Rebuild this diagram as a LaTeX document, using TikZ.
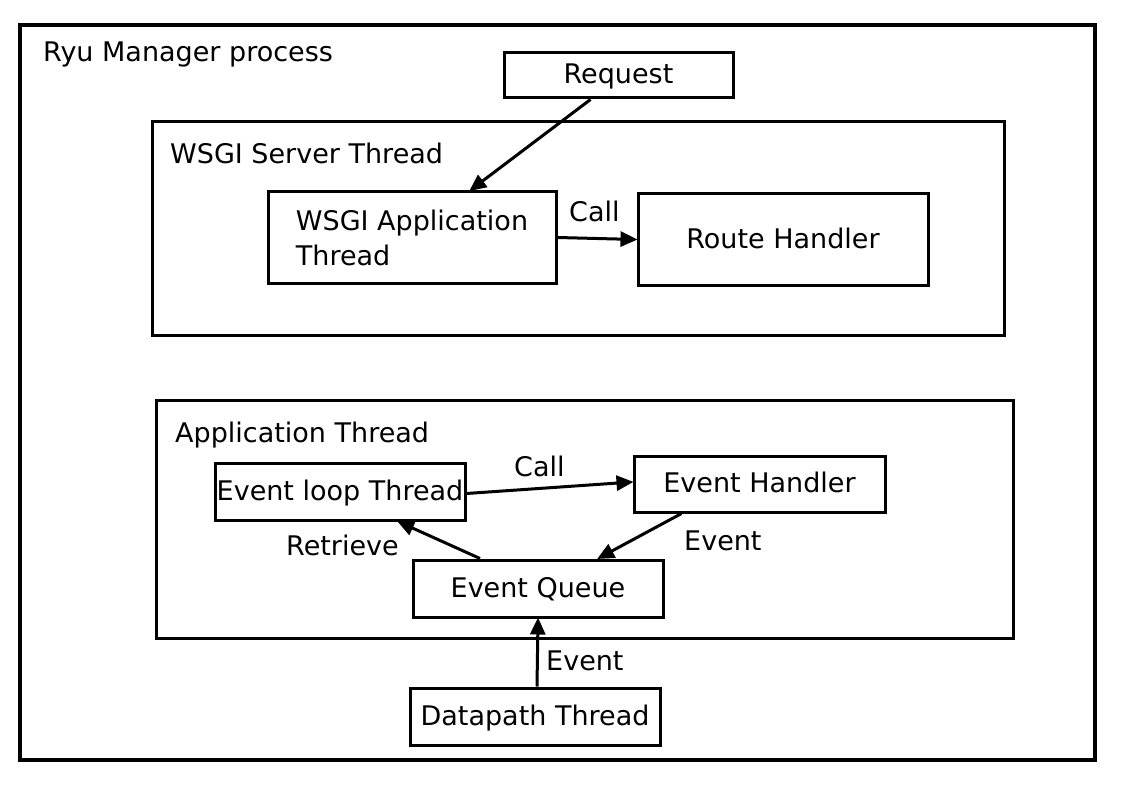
\documentclass[tikz,border=0pt]{standalone}
\usepackage{fontspec}
\setmainfont{DejaVu Sans}
\usetikzlibrary{arrows.meta,calc}
\begin{document}
\begin{tikzpicture}[x=1pt,y=-1pt,
  every node/.style={font=\fontsize{27}{35}\selectfont},
  box/.style={draw,line width=3pt,inner sep=0pt,text height=22pt,text depth=5pt},
  frame/.style={draw,line width=3pt},
  lbl/.style={anchor=base west,inner sep=0pt},
  arr/.style={line width=3pt,-{Triangle[length=17pt,width=15pt]},shorten >=-1pt}]
\path[use as bounding box] (0,0) rectangle (1123,794);
% outer process
\draw[line width=4.5pt] (20,25) rectangle (1095,760);
\node[lbl] (title) at (43,62) {Ryu Manager process};
% request
\node[box,minimum width=229pt,minimum height=45pt] (req) at (618.5,75.5) {Request};
% WSGI server thread
\draw[frame] (152,122) rectangle (1004,335);
\node[lbl] (wsgilbl) at (170,164) {WSGI Server Thread};
\node[draw,line width=3pt,minimum width=288pt,minimum height=91pt,align=left,inner sep=0pt] (app) at (412,237.5) {WSGI Application\\Thread};
\node[box,minimum width=290pt,minimum height=91pt] (route) at (783,239.5) {Route Handler};
% application thread
\draw[frame] (156,400) rectangle (1013,638);
\node[lbl] (applbl) at (175,442) {Application Thread};
\node[box,minimum width=250pt,minimum height=57pt] (loop) at (340,491.5) {Event loop Thread};
\node[box,minimum width=251pt,minimum height=56pt] (handler) at (759.5,484) {Event Handler};
\node[box,minimum width=250pt,minimum height=57pt] (queue) at (538,588.5) {Event Queue};
\node[box,minimum width=250pt,minimum height=57pt] (dp) at (535,716.5) {Datapath Thread};
% connectors
\draw[arr] ([xshift=-28pt]req.south) -- ([xshift=58pt]app.north);
\draw[arr] (app.east) -- (route.west);
\node[lbl] (call1) at (569,222) {Call};
\draw[arr] ([yshift=-2pt]loop.east) -- ([yshift=2pt]handler.west);
\node[lbl] (call2) at (514,476) {Call};
\draw[arr] ([xshift=-205pt]handler.south east) -- ([xshift=60pt]queue.north);
\node[lbl] (ev1) at (684,550) {Event};
\draw[arr] ([xshift=-58pt]queue.north) -- ([xshift=58pt]loop.south);
\node[lbl] (retr) at (286,555) {Retrieve};
\draw[arr] ([xshift=2pt]dp.north) -- (queue.south);
\node[lbl] (ev2) at (546,670) {Event};
\end{tikzpicture}
\end{document}
